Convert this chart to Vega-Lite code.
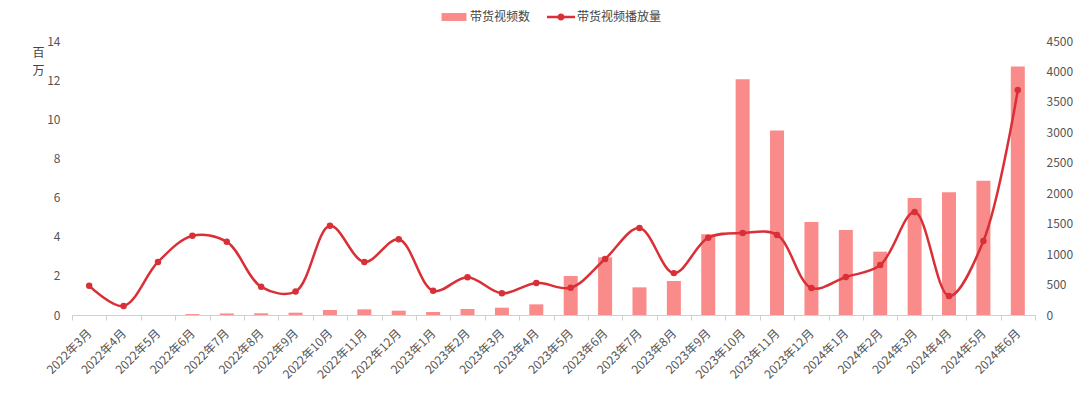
{
  "$schema": "https://vega.github.io/schema/vega-lite/v6.json",
  "width": 963,
  "height": 274,
  "autosize": "none",
  "padding": {"left": 72, "top": 41, "right": 45, "bottom": 79},
  "background": "white",
  "config": {
    "view": {"stroke": null},
    "font": "Noto Sans CJK SC",
    "axis": {"grid": false}
  },
  "data": {
    "values": [
      {"month": "2022年3月", "videos": 0, "plays": 1.49},
      {"month": "2022年4月", "videos": 0, "plays": 0.46},
      {"month": "2022年5月", "videos": 0, "plays": 2.71},
      {"month": "2022年6月", "videos": 15, "plays": 4.05},
      {"month": "2022年7月", "videos": 25, "plays": 3.74},
      {"month": "2022年8月", "videos": 28, "plays": 1.44},
      {"month": "2022年9月", "videos": 38, "plays": 1.2},
      {"month": "2022年10月", "videos": 82, "plays": 4.56},
      {"month": "2022年11月", "videos": 93, "plays": 2.71},
      {"month": "2022年12月", "videos": 71, "plays": 3.87},
      {"month": "2023年1月", "videos": 49, "plays": 1.24},
      {"month": "2023年2月", "videos": 99, "plays": 1.93},
      {"month": "2023年3月", "videos": 120, "plays": 1.11},
      {"month": "2023年4月", "videos": 175, "plays": 1.64},
      {"month": "2023年5月", "videos": 640, "plays": 1.39},
      {"month": "2023年6月", "videos": 947, "plays": 2.86},
      {"month": "2023年7月", "videos": 454, "plays": 4.44},
      {"month": "2023年8月", "videos": 558, "plays": 2.14},
      {"month": "2023年9月", "videos": 1325, "plays": 3.95},
      {"month": "2023年10月", "videos": 3870, "plays": 4.19},
      {"month": "2023年11月", "videos": 3032, "plays": 4.09},
      {"month": "2023年12月", "videos": 1527, "plays": 1.38},
      {"month": "2024年1月", "videos": 1396, "plays": 1.94},
      {"month": "2024年2月", "videos": 1040, "plays": 2.55},
      {"month": "2024年3月", "videos": 1921, "plays": 5.26},
      {"month": "2024年4月", "videos": 2014, "plays": 0.97},
      {"month": "2024年5月", "videos": 2206, "plays": 3.78},
      {"month": "2024年6月", "videos": 4083, "plays": 11.5}
    ]
  },
  "encoding": {
    "x": {
      "field": "month",
      "type": "ordinal",
      "sort": null,
      "title": null,
      "scale": {"paddingInner": 0, "paddingOuter": 0},
      "axis": {
        "labelAngle": -45,
        "labelAlign": "right",
        "labelBaseline": "middle",
        "tickBand": "extent",
        "domainColor": "#d0d0d0",
        "tickColor": "#d0d0d0",
        "tickSize": 5,
        "labelColor": "#555555",
        "labelFontSize": 12,
        "labelPadding": 11
      }
    }
  },
  "layer": [
    {
      "mark": {"type": "bar", "width": 14},
      "encoding": {
        "y": {
          "field": "videos",
          "type": "quantitative",
          "scale": {"domain": [0, 4500], "nice": false},
          "axis": {
            "orient": "right",
            "title": null,
            "format": "d",
            "values": [0, 500, 1000, 1500, 2000, 2500, 3000, 3500, 4000, 4500],
            "domain": false,
            "ticks": false,
            "labelPadding": 11,
            "labelColor": "#555555",
            "labelFontSize": 12
          }
        },
        "color": {
          "datum": "带货视频数",
          "scale": {"domain": ["带货视频数", "带货视频播放量"], "range": ["#f98b8b", "#d93038"]},
          "legend": {
            "orient": "none",
            "legendX": 370,
            "legendY": -36,
            "direction": "horizontal",
            "title": null,
            "symbolSize": 576,
            "labelFontSize": 12,
            "labelColor": "#444444",
            "labelOffset": 4,
            "columnPadding": 15,
            "symbolStrokeWidth": 0,
            "encode": {
              "symbols": {
                "update": {
                  "shape": {"signal": "datum.value === '带货视频数' ? 'M-1.04,-0.33H1.04V0.33H-1.04Z' : 'M-1.17,-0.1H1.17V0.1H-1.17Z M0.3,0A0.3,0.3 0 1 1 -0.3,0A0.3,0.3 0 1 1 0.3,0Z'"},
                  "fill": {"signal": "datum.value === '带货视频数' ? '#f98b8b' : '#d93038'"},
                  "fillOpacity": {"value": 1},
                  "opacity": {"value": 1},
                  "stroke": {"value": "transparent"}
                }
              }
            }
          }
        }
      }
    },
    {
      "mark": {
        "type": "line",
        "interpolate": "catmull-rom",
        "strokeWidth": 2.5,
        "point": {"filled": true, "size": 42}
      },
      "encoding": {
        "y": {
          "field": "plays",
          "type": "quantitative",
          "scale": {"domain": [0, 14], "nice": false},
          "axis": {
            "orient": "left",
            "values": [0, 2, 4, 6, 8, 10, 12, 14],
            "domain": false,
            "ticks": false,
            "labelPadding": 12,
            "labelColor": "#555555",
            "labelFontSize": 12,
            "title": ["百", "万"],
            "titleAngle": 0,
            "titleX": -34,
            "titleY": 6,
            "titleAlign": "center",
            "titleBaseline": "top",
            "titleLineHeight": 18,
            "titleFontWeight": "normal",
            "titleFontSize": 12,
            "titleColor": "#444444"
          }
        },
        "color": {"datum": "带货视频播放量"}
      }
    }
  ],
  "resolve": {"scale": {"y": "independent"}}
}
